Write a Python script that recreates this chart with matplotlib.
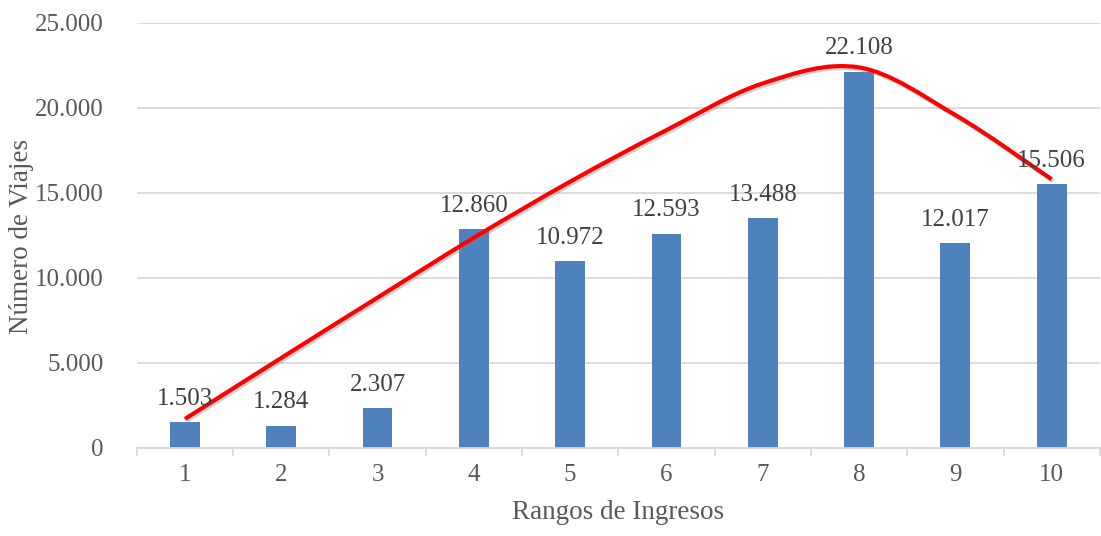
import matplotlib
matplotlib.use("Agg")
import matplotlib.pyplot as plt
import matplotlib.patheffects as pe
from matplotlib.path import Path
from matplotlib.patches import PathPatch
import numpy as np

# Income ranges and number of trips per range
rangos = [1, 2, 3, 4, 5, 6, 7, 8, 9, 10]
viajes = [1503, 1284, 2307, 12860, 10972, 12593, 13488, 22108, 12017, 15506]

# Trend curve values at each income range
tendencia = [1690, 5280, 8830, 12350, 15650, 18680, 21430, 22370, 19570, 15790]

y_ticks = [0, 5000, 10000, 15000, 20000, 25000]


def miles(v):
    return f"{int(v):,}".replace(",", ".")


plt.rcParams['font.family'] = ['Liberation Serif', 'DejaVu Serif']

fig = plt.figure(figsize=(11.01, 5.36), dpi=100)
ax = fig.add_axes([136.8 / 1101, 88.3 / 536, 963 / 1101, 425 / 536])

bar_color = '#4F81BD'
ax.bar(rangos, viajes, width=0.31, color=bar_color, zorder=2)

for x, v in zip(rangos, viajes):
    ax.annotate(miles(v), (x, v), xytext=(0, 9), textcoords='offset points',
                ha='center', va='bottom', fontsize=18, color='#404040', zorder=4)

# Smooth trend line (Catmull-Rom converted to cubic Bezier segments)
xs = np.array(rangos, dtype=float)
ys = np.array(tendencia, dtype=float)
n = len(xs)
verts = [(xs[0], ys[0])]
codes = [Path.MOVETO]
for i in range(n - 1):
    p0 = np.array([xs[max(i - 1, 0)], ys[max(i - 1, 0)]])
    p1 = np.array([xs[i], ys[i]])
    p2 = np.array([xs[i + 1], ys[i + 1]])
    p3 = np.array([xs[min(i + 2, n - 1)], ys[min(i + 2, n - 1)]])
    c1 = p1 + (p2 - p0) / 6.0
    c2 = p2 - (p3 - p1) / 6.0
    verts += [tuple(c1), tuple(c2), tuple(p2)]
    codes += [Path.CURVE4, Path.CURVE4, Path.CURVE4]
curve = PathPatch(Path(verts, codes), fill=False, edgecolor='#FF0000',
                  lw=3.0, capstyle='butt', zorder=3,
                  path_effects=[pe.SimpleLineShadow(offset=(1.2, -1.5),
                                                    shadow_color='#808080',
                                                    alpha=0.35),
                                pe.Normal()])
ax.add_patch(curve)

ax.set_xlim(0.5, 10.5)
ax.set_ylim(0, 25000)
ax.set_yticks(y_ticks)
ax.set_yticklabels([miles(t) for t in y_ticks])
ax.set_xticks(rangos)
ax.set_xticklabels([str(r) for r in rangos])
ax.set_xticks(np.arange(0.5, 11, 1.0), minor=True)

ax.grid(axis='y', color='#D9D9D9', lw=1.3, zorder=0)
ax.set_axisbelow(True)
for s in ['top', 'right', 'left']:
    ax.spines[s].set_visible(False)
ax.spines['bottom'].set_color('#D9D9D9')
ax.spines['bottom'].set_linewidth(1.3)

ax.tick_params(axis='y', length=0, pad=24, labelsize=18, labelcolor='#595959')
ax.tick_params(axis='x', which='major', length=0, pad=12, labelsize=18,
               labelcolor='#595959')
ax.tick_params(axis='x', which='minor', length=6, width=1.3, color='#D9D9D9')

ax.set_xlabel('Rangos de Ingresos', fontsize=19.5, color='#595959', labelpad=10)
fig.text(22 / 1101, 1 - 236 / 536, 'Número de Viajes', rotation=90,
         ha='center', va='center', fontsize=19.5, color='#595959')

fig.savefig('out.png', dpi=100)
